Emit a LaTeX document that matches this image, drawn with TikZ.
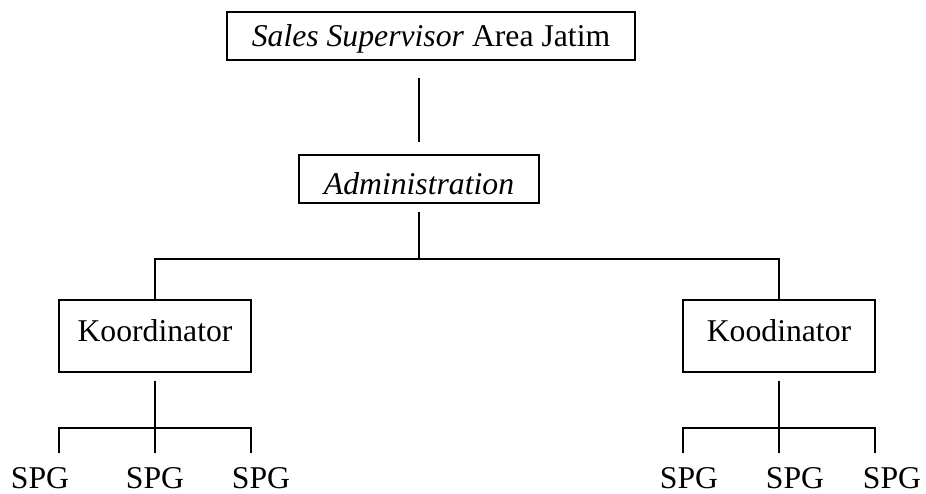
\documentclass[tikz,border=0pt]{standalone}
\usepackage{fontspec}
\setmainfont{Liberation Serif}
\begin{document}
\begin{tikzpicture}[x=1pt, y=-1pt,
  every node/.style={font=\fontsize{31.7}{38}\selectfont, inner sep=0pt},
  orgbox/.style={draw, line width=1.3pt, rectangle, anchor=center},
  conn/.style={line width=1.1pt},
  staff/.style={anchor=north, text height=21pt, text depth=0pt}]
\useasboundingbox (0,0) rectangle (926,494);

% boxes
\node[orgbox, minimum width=408pt, minimum height=48pt, text height=21pt, text depth=0pt]
  (sup) at (431,36) {\textit{Sales Supervisor} Area Jatim};
\node[orgbox, minimum width=240pt, minimum height=48pt, text height=31pt, text depth=0pt]
  (adm) at (419,179) {\textit{Administration}};
\node[orgbox, minimum width=192pt, minimum height=72pt, text height=21pt, text depth=10pt]
  (k1) at (155,336) {Koordinator};
\node[orgbox, minimum width=192pt, minimum height=72pt, text height=21pt, text depth=10pt]
  (k2) at (779,336) {Koodinator};

% staff labels
\node[staff] (s11) at (40,467) {SPG};
\node[staff] (s12) at (155,467) {SPG};
\node[staff] (s13) at (261,467) {SPG};
\node[staff] (s21) at (689,467) {SPG};
\node[staff] (s22) at (795,467) {SPG};
\node[staff] (s23) at (892,467) {SPG};

% bus levels and branch ends
\coordinate (bus) at (419,259);
\coordinate (b1) at (155,428);
\coordinate (b2) at (779,428);
\coordinate (t11) at (59,453);
\coordinate (t12) at (155,453);
\coordinate (t13) at (251,453);
\coordinate (t21) at (683,453);
\coordinate (t22) at (779,453);
\coordinate (t23) at (875,453);

% connectors
\draw[conn, shorten <=17pt, shorten >=12pt] (adm.north |- sup.south) -- (adm.north);
\draw[conn, shorten <=8pt] (adm.south) -- (bus);
\draw[conn] (k1.north) -- (k1.north |- bus) -- (k2.north |- bus) -- (k2.north);

\draw[conn, shorten <=8pt] (k1.south) -- (b1);
\draw[conn] (t11) -- (t11 |- b1) -- (t13 |- b1) -- (t13);
\draw[conn] (t12) -- (b1);

\draw[conn, shorten <=8pt] (k2.south) -- (b2);
\draw[conn] (t21) -- (t21 |- b2) -- (t23 |- b2) -- (t23);
\draw[conn] (t22) -- (b2);
\end{tikzpicture}
\end{document}
